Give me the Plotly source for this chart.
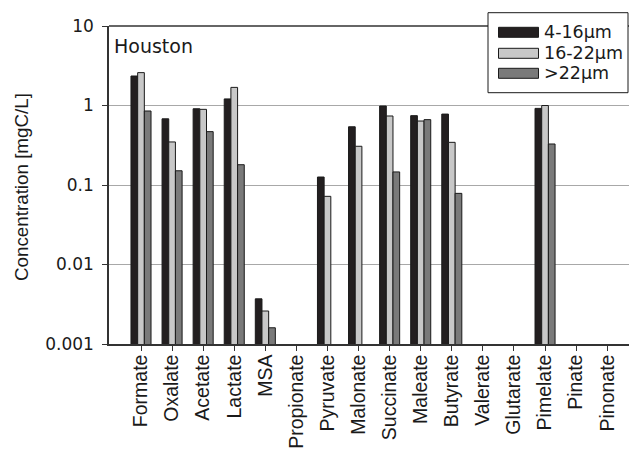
import plotly.graph_objects as go

categories = ["Formate", "Oxalate", "Acetate", "Lactate", "MSA", "Propionate", "Pyruvate",
              "Malonate", "Succinate", "Maleate", "Butyrate", "Valerate", "Glutarate",
              "Pimelate", "Pinate", "Pinonate"]
series_names = ["4-16\u00b5m", "16-22\u00b5m", ">22\u00b5m"]
s_4_16 = [2.35, 0.68, 0.91, 1.21, 0.0037, None, 0.126, 0.54, 0.985, 0.745, 0.78, None, None, 0.92, None, None]
s_16_22 = [2.59, 0.348, 0.895, 1.69, 0.0026, None, 0.072, 0.307, 0.738, 0.638, 0.344, None, None, 1.0, None, None]
s_gt22 = [0.853, 0.151, 0.469, 0.18, 0.0016, None, None, None, 0.146, 0.664, 0.0785, None, None, 0.328, None, None]
colors = ["#231f20", "#c8c8c8", "#7a7a7a"]
ytick_vals = [0.001, 0.01, 0.1, 1, 10]
ytick_text = ["0.001", "0.01", "0.1", "1", "10"]

FONT = "Liberation Sans, Arial, sans-serif"
WIDE = "DejaVu Sans, sans-serif"
OFF = 8  # page body margin
SW, SH = 637, 456
W, H = SW - 2 * OFF, SH - 2 * OFF
# target screen coordinates of the plot area
L_S, T_S, B_S, R_S = 109, 26, 344, OFF + W
ML, MT = L_S - OFF, T_S - OFF
MR = (OFF + W) - R_S
MB = (OFF + H) - B_S
PW, PH = R_S - L_S, B_S - T_S
STEP = 31.08          # pixels per category in the reference
FIRST = 141           # screen x of first category
x_lo = -(FIRST - L_S) / STEP
x_hi = x_lo + PW / STEP


def px(x):
    return (x - L_S) / PW


def py(y):
    return (B_S - y) / PH


fig = go.Figure()
for name, vals, col in zip(series_names, [s_4_16, s_16_22, s_gt22], colors):
    fig.add_trace(go.Bar(x=list(range(len(categories))), y=vals, name=name,
                         marker=dict(color=col, line=dict(color="#1a1a1a", width=1)),
                         showlegend=False))

shapes = []
shapes.append(dict(type="line", xref="paper", yref="paper", x0=0, x1=1, y0=1, y1=1,
                   line=dict(color="#333333", width=1.5)))
shapes.append(dict(type="rect", xref="paper", yref="paper", x0=px(488), x1=px(628), y0=py(92.7), y1=py(12.7),
                   line=dict(color="#1a1a1a", width=1), fillcolor="white", layer="above"))
annotations = []
sw_y = [32.3, 53.3, 73.3]
for i, (name, col) in enumerate(zip(series_names, colors)):
    shapes.append(dict(type="rect", xref="paper", yref="paper", x0=px(498.5), x1=px(538.5),
                       y0=py(sw_y[i] + 5), y1=py(sw_y[i] - 5),
                       line=dict(color="#1a1a1a", width=1), fillcolor=col, layer="above"))
    annotations.append(dict(text=name, xref="paper", yref="paper", x=px(542), y=py(sw_y[i]),
                            xanchor="left", yanchor="middle", showarrow=False,
                            font=dict(family=WIDE, size=17.5, color="#1a1a1a")))

annotations.append(dict(text="Houston", xref="paper", yref="paper", x=px(112), y=py(45.5),
                        xanchor="left", yanchor="middle", showarrow=False,
                        font=dict(family=WIDE, size=19, color="#1a1a1a")))
annotations.append(dict(text="Concentration [mgC/L]", xref="paper", yref="paper", x=px(21), y=py(187),
                        xanchor="center", yanchor="middle", textangle=-90, showarrow=False,
                        font=dict(family=FONT, size=18.8, color="#1a1a1a")))

fig.update_layout(
    width=W, height=H,
    margin=dict(l=ML, r=MR, t=MT, b=MB, pad=0, autoexpand=False),
    paper_bgcolor="white", plot_bgcolor="white",
    barmode="group", bargap=0.355, bargroupgap=0,
    font=dict(family=FONT, size=18, color="#1a1a1a"),
    shapes=shapes, annotations=annotations,
    showlegend=False,
)
fig.update_xaxes(range=[x_lo, x_hi], tickmode="array", tickvals=list(range(len(categories))),
                 ticktext=categories, tickangle=-90, ticks="outside", ticklen=5, tickwidth=1,
                 tickcolor="#333333", showline=True, linecolor="#333333", linewidth=1.5,
                 ticklabelstandoff=-4,
                 showgrid=False, zeroline=False, tickfont=dict(family=FONT, size=19.5, color="#1a1a1a"))
fig.update_yaxes(type="log", range=[-3, 1], tickmode="array", tickvals=ytick_vals, ticktext=ytick_text,
                 ticks="outside", ticklen=5, tickwidth=1, tickcolor="#333333",
                 showline=True, linecolor="#333333", linewidth=1.5, ticklabelstandoff=5,
                 showgrid=True, gridcolor="#a8a8a8", gridwidth=1, zeroline=False,
                 tickfont=dict(family=WIDE, size=17, color="#1a1a1a"))

fig.write_html("out.html")
